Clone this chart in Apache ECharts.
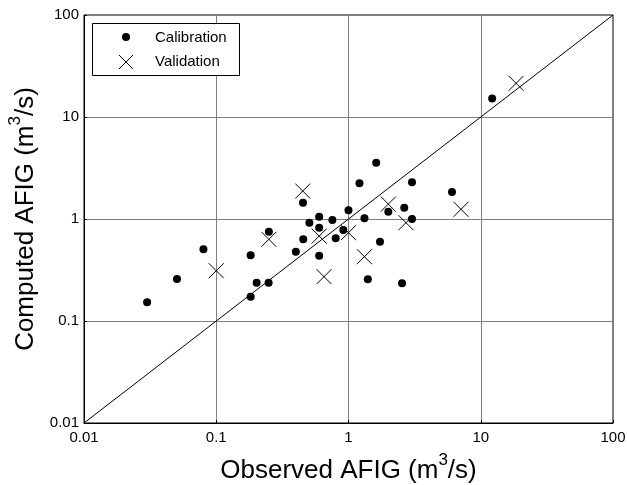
<!DOCTYPE html>
<html>
<head>
<meta charset="utf-8">
<script src="https://cdn.jsdelivr.net/npm/echarts@6/dist/echarts.min.js"></script>
<style>
  html, body { margin: 0; padding: 0; background: #fff; }
  #chart { width: 627px; height: 485px; }
</style>
</head>
<body>
<div id="chart"></div>
<script>
// observed vs computed AFIG (m3/s)
const calObserved = [0.030, 0.0505, 0.080, 0.182, 0.202, 0.249, 0.182, 0.25, 0.453, 0.40, 0.455, 0.506, 0.60, 0.60, 0.755, 0.80, 0.914, 1.0, 0.60, 1.32, 1.21, 1.62, 3.02, 2.0, 2.64, 3.02, 1.73, 1.40, 2.54, 6.06, 12.2]
const calComputed = [0.153, 0.258, 0.505, 0.44, 0.237, 0.237, 0.173, 0.75, 1.445, 0.477, 0.632, 0.92, 1.05, 0.82, 0.98, 0.647, 0.78, 1.22, 0.437, 1.016, 2.24, 3.56, 2.29, 1.18, 1.29, 1.0, 0.60, 0.257, 0.234, 1.84, 15.2]

const valObserved = [0.1, 0.25, 0.451, 0.60, 1.0, 2.0, 2.72, 1.32, 0.653, 7.09, 18.5]
const valComputed = [0.311, 0.632, 1.88, 0.68, 0.734, 1.40, 0.92, 0.427, 0.272, 1.245, 21.4]

// 1:1 line
const lineX = [0.01, 100]
const lineY = [0.01, 100]

const tickValues = [0.01, 0.1, 1, 10, 100]

const FONT = 'Arial, "Liberation Sans", sans-serif'
const CROSS = 'path://M0,0L10,10M10,0L0,10'

const chart = echarts.init(document.getElementById('chart'))

const fmt = v => {
    const n = Number(Number(v).toPrecision(3))
    return tickValues.includes(n) ? String(n) : ''
}

const nameRich = {
    base: { fontSize: 26, fontFamily: FONT, color: '#000', lineHeight: 32, verticalAlign: 'bottom' },
    sup: { fontSize: 17, fontFamily: FONT, color: '#000', lineHeight: 17, verticalAlign: 'top' }
}

const axisCommon = {
    type: 'log',
    logBase: 10,
    min: 0.01,
    max: 100,
    axisLine: { show: true, lineStyle: { color: '#000', width: 1 } },
    axisTick: { show: true, inside: true, length: 3, lineStyle: { color: '#000' } },
    minorTick: { show: false },
    splitLine: { show: true, lineStyle: { color: '#7f7f7f', width: 1 } },
    axisLabel: { fontSize: 15, fontFamily: FONT, color: '#000', formatter: fmt, showMinLabel: true, showMaxLabel: true },
    nameLocation: 'middle',
    nameTextStyle: { rich: nameRich }
}

chart.setOption({
    animation: false,
    backgroundColor: '#fff',
    grid: {
        left: 84, right: 14, top: 15, bottom: 62,
        outerBoundsMode: 'none',
        containLabel: false,
        show: true, borderColor: '#000', borderWidth: 1
    },
    xAxis: Object.assign({}, axisCommon, {
        name: '{base|Observed AFIG (m}{sup|3}{base|/s)}',
        nameGap: 29,
        axisLabel: Object.assign({}, axisCommon.axisLabel, { margin: 7 })
    }),
    yAxis: Object.assign({}, axisCommon, {
        name: '{base|Computed AFIG (m}{sup|3}{base|/s)}',
        nameGap: 42,
        nameRotate: 90,
        axisLabel: Object.assign({}, axisCommon.axisLabel, { margin: 5 })
    }),
    series: [
        {
            name: '1:1',
            type: 'line',
            data: lineX.map((x, i) => [x, lineY[i]]),
            symbol: 'none',
            lineStyle: { color: '#000', width: 1 },
            z: 1
        },
        {
            name: 'Calibration',
            type: 'scatter',
            data: calObserved.map((x, i) => [x, calComputed[i]]),
            symbol: 'circle',
            symbolSize: 8,
            itemStyle: { color: '#000', opacity: 1 },
            z: 3
        },
        {
            name: 'Validation',
            type: 'scatter',
            data: valObserved.map((x, i) => [x, valComputed[i]]),
            symbol: CROSS,
            symbolSize: 15,
            itemStyle: { color: 'none', borderColor: '#000', borderWidth: 1, opacity: 1 },
            z: 4
        }
    ],
    // legend box, drawn by hand to match the dot/cross sizes
    graphic: [
        {
            type: 'rect', left: 92, top: 23, z: 10,
            shape: { width: 147, height: 52 },
            style: { fill: '#fff', stroke: '#000', lineWidth: 1 }
        },
        {
            type: 'circle', z: 11,
            shape: { cx: 126, cy: 37, r: 4 },
            style: { fill: '#000' }
        },
        {
            type: 'line', z: 11,
            shape: { x1: 119, y1: 55, x2: 133, y2: 69 },
            style: { stroke: '#000', lineWidth: 1 }
        },
        {
            type: 'line', z: 11,
            shape: { x1: 133, y1: 55, x2: 119, y2: 69 },
            style: { stroke: '#000', lineWidth: 1 }
        },
        {
            type: 'text', left: 155, top: 30, z: 11,
            style: { text: 'Calibration', fontSize: 15, fontFamily: FONT, fill: '#000' }
        },
        {
            type: 'text', left: 155, top: 54, z: 11,
            style: { text: 'Validation', fontSize: 15, fontFamily: FONT, fill: '#000' }
        }
    ]
})
</script>
</body>
</html>
